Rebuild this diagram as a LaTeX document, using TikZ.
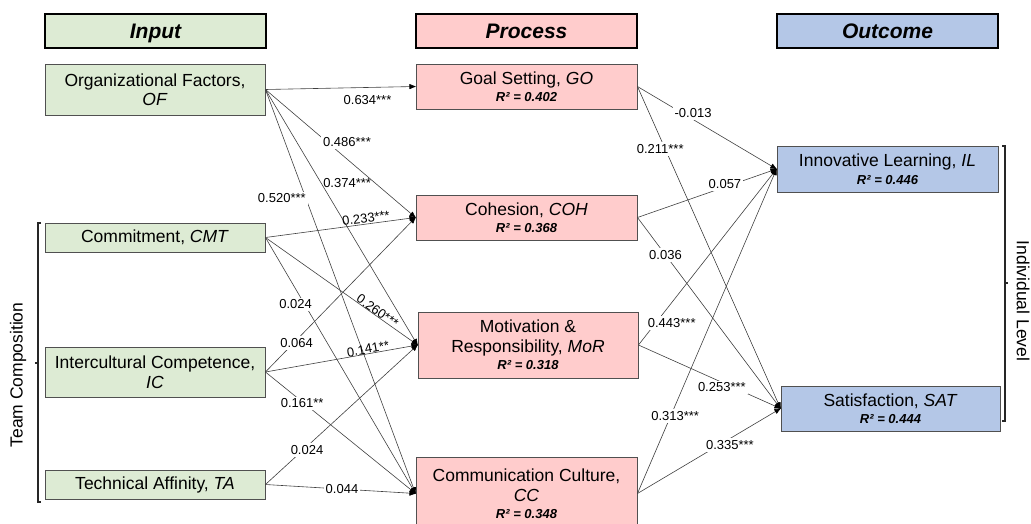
\documentclass[tikz,border=0pt]{standalone}
\usepackage{fontspec}
\setmainfont{Liberation Sans}
\usetikzlibrary{arrows.meta}
\definecolor{ingreen}{HTML}{DDEBD4}
\definecolor{prpink}{HTML}{FFCCCC}
\definecolor{outblue}{HTML}{B4C7E7}
\definecolor{boxgray}{HTML}{505050}
\definecolor{linegray}{HTML}{404040}
\newcommand\rtwo[1]{{\fontsize{13}{15}\selectfont\bfseries\itshape R² = #1}}
\begin{document}
\begin{tikzpicture}[x=1pt,y=-1pt,
  hdr/.style={draw=black, line width=2pt, minimum width=221pt, minimum height=34pt, inner sep=0pt,
    text height=20.5pt, text depth=4.5pt,
    font=\fontsize{21}{24}\selectfont\bfseries\itshape},
  box/.style={draw=boxgray, line width=0.9pt, inner sep=0pt, align=center, minimum width=220pt,
    font=\fontsize{17.5}{20}\selectfont},
  inbox/.style={box, fill=ingreen},
  prbox/.style={box, fill=prpink},
  outbox/.style={box, fill=outblue},
  conn/.style={draw=linegray, line width=0.6pt, -{Latex[length=7pt,width=5.5pt,round,color=black]}},
  lbl/.style={font=\fontsize{13}{15}\selectfont, inner sep=2pt, fill=white},
  lblnf/.style={font=\fontsize{13}{15}\selectfont, inner sep=1pt},
  brk/.style={draw=black!85, line width=1.1pt},
  side/.style={font=\fontsize{17.5}{20}\selectfont}
]
\useasboundingbox (0,0) rectangle (1031,523);
\clip (0,0) rectangle (1031,523);

% headers
\node[hdr, fill=ingreen] (hIn) at (155.5,30.5) {Input};
\node[hdr, fill=prpink] (hPr) at (526.5,30.5) {Process};
\node[hdr, fill=outblue] (hOut) at (887.5,30.5) {Outcome};

% input
\node[inbox, minimum height=51pt] (OF) at (155,89.5) {Organizational Factors,\\[-1pt] \textit{OF}};
\node[inbox, minimum height=29pt] (CMT) at (155,237.5) {Commitment, \textit{CMT}};
\node[inbox, minimum height=50pt] (IC) at (155,372) {Intercultural Competence,\\ \textit{IC}};
\node[inbox, minimum height=29pt] (TA) at (155,484.5) {Technical Affinity, \textit{TA}};

% process
\node[prbox, minimum width=221pt, minimum height=45pt] (GO) at (526.5,86.5) {Goal Setting, \textit{GO}\\[-2.5pt] \rtwo{0.402}};
\node[prbox, minimum width=221pt, minimum height=45pt] (COH) at (526.5,217.5) {Cohesion, \textit{COH}\\[-2.5pt] \rtwo{0.368}};
\node[prbox, minimum height=66pt] (MoR) at (528,345) {Motivation \&\\ Responsibility, \textit{MoR}\\[-3pt] \rtwo{0.318}};
\node[prbox, minimum width=221pt, minimum height=73pt] (CC) at (526.5,493.5) {Communication Culture,\\[-0.5pt] \textit{CC}\\[-3pt] \rtwo{0.348}};

% outcome
\node[outbox, minimum width=221pt, minimum height=46pt] (IL) at (887.5,169) {Innovative Learning, \textit{IL}\\[-2.5pt] \rtwo{0.446}};
\node[outbox, minimum width=219pt, minimum height=45pt] (SAT) at (890.5,408.5) {Satisfaction, \textit{SAT}\\[-2.5pt] \rtwo{0.444}};

% connectors
\foreach \s/\t in {OF/GO, OF/COH, OF/MoR, OF/CC, CMT/COH, CMT/MoR, CMT/CC, IC/COH, IC/MoR, IC/CC, TA/MoR, TA/CC,
                   GO/IL, GO/SAT, COH/IL, COH/SAT, MoR/IL, MoR/SAT, CC/IL, CC/SAT}
  \draw[conn] (\s.east) -- (\t.west);

% labels
\path (OF.east) -- (GO.west) node[lblnf, pos=.68, below=7pt] {0.634***};
\path (OF.east) -- (COH.west) node[lbl, pos=.41, xshift=20pt] {0.486***};
\path (OF.east) -- (MoR.west) node[lblnf, pos=.366, xshift=26pt] {0.374***};
\path (OF.east) -- (CC.west) node[lbl, pos=.269, xshift=-24pt] {0.520***};
\path (CMT.east) -- (COH.west) node[lblnf, sloped, above=0pt, pos=.675] {0.233***};
\path (CMT.east) -- (MoR.west) node[lblnf, sloped, above=-1pt, pos=.72] {0.260***};
\path (CMT.east) -- (CC.west) node[lbl, pos=.261, xshift=-9pt] {0.024};
\path (IC.east) -- (COH.west) node[lbl, pos=.188, xshift=3pt] {0.064};
\path (IC.east) -- (MoR.west) node[lblnf, sloped, above=-1pt, pos=.68] {0.141**};
\path (IC.east) -- (CC.west) node[lbl, pos=.2575, xshift=-2pt] {0.161**};
\path (TA.east) -- (MoR.west) node[lbl, pos=.247, xshift=4pt] {0.024};
\path (TA.east) -- (CC.west) node[lbl, pos=.51] {0.044};
\path (GO.east) -- (IL.west) node[lbl, pos=.4, yshift=6pt] {-0.013};
\path (GO.east) -- (SAT.west) node[lbl, pos=.194, xshift=-5pt] {0.211***};
\path (COH.east) -- (IL.west) node[lbl, pos=.629, yshift=3pt] {0.057};
\path (COH.east) -- (SAT.west) node[lbl, pos=.196] {0.036};
\path (MoR.east) -- (IL.west) node[lbl, pos=.125, xshift=16pt] {0.443***};
\path (MoR.east) -- (SAT.west) node[lbl, pos=.587, yshift=-5pt] {0.253***};
\path (CC.east) -- (IL.west) node[lbl, pos=.239, xshift=4.5pt] {0.313***};
\path (CC.east) -- (SAT.west) node[lbl, pos=.646, yshift=-6.5pt] {0.335***};

% brackets
\draw[brk] (41,223) -- (38,223) -- (38,502) -- (41,502);
\draw[brk] (38,363) -- (35,363);
\node[side, rotate=90] (tc) at (18,375) {Team Composition};
\draw[brk] (1002,146) -- (1005,146) -- (1005,421) -- (1002,421);
\draw[brk] (1005,283) -- (1008,283);
\node[side, rotate=-90] (il) at (1023,301) {Individual Level};
\end{tikzpicture}
\end{document}
